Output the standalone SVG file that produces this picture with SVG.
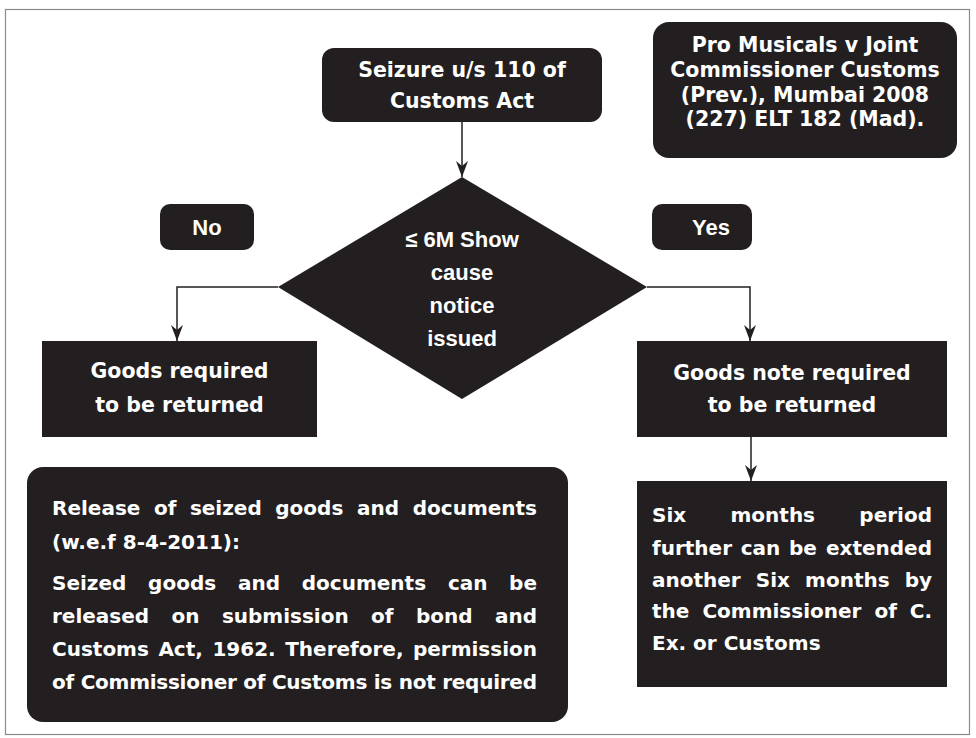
<svg xmlns="http://www.w3.org/2000/svg" width="976" height="738" viewBox="0 0 976 738">
<style>
.box{fill:#231f20}
.t{fill:#fff;font-family:"DejaVu Sans",sans-serif;font-weight:bold;font-size:20.5px}
.c{text-anchor:middle}
.d{fill:#fff;font-family:"Liberation Sans",Arial,sans-serif;font-weight:bold;font-size:22px;text-anchor:middle}
.j{fill:#fff;font-family:"DejaVu Sans",sans-serif;font-weight:bold;font-size:20px}
.e{text-anchor:end}
.conn{fill:none;stroke:#231f20;stroke-width:1.5}
</style>
<defs>
<marker id="ah" viewBox="0 0 16 12" refX="16" refY="6" markerWidth="16" markerHeight="12" markerUnits="userSpaceOnUse" orient="auto">
<path d="M0,0 L16,6 L0,12 L5,6 z" fill="#231f20"/>
</marker>
</defs>
<rect x="5.5" y="9.5" width="964" height="725" fill="#fff" stroke="#8a8a8a" stroke-width="1.2"/>

<g id="connectors">
<path class="conn" d="M462,122 V177" marker-end="url(#ah)"/>
<path class="conn" d="M278,287 H177 V341" marker-end="url(#ah)"/>
<path class="conn" d="M647,287 H750 V341" marker-end="url(#ah)"/>
<path class="conn" d="M751,437 V481" marker-end="url(#ah)"/>
</g>

<g id="seizure">
<rect class="box" x="322" y="48" width="280" height="74" rx="12"/>
<text class="t c" x="462" y="77">Seizure u/s 110 of</text>
<text class="t c" x="462" y="108">Customs Act</text>
</g>

<g id="case">
<rect class="box" x="653" y="22" width="304" height="136" rx="16"/>
<text class="t c" x="805" y="52">Pro Musicals v Joint</text>
<text class="t c" x="805" y="77">Commissioner Customs</text>
<text class="t c" x="805" y="102">(Prev.), Mumbai 2008</text>
<text class="t c" x="805" y="126">(227) ELT 182 (Mad).</text>
</g>

<g id="no">
<rect class="box" x="160" y="204" width="94" height="46" rx="10"/>
<text class="d" x="207" y="235">No</text>
</g>

<g id="yes">
<rect class="box" x="652" y="204" width="100" height="46" rx="10"/>
<text class="d" x="711" y="235">Yes</text>
</g>

<g id="decision">
<polygon class="box" points="462,177 647,287 462,399 278,287"/>
<text class="d" x="462" y="247">≤ 6M Show</text>
<text class="d" x="462" y="280">cause</text>
<text class="d" x="462" y="313">notice</text>
<text class="d" x="462" y="346">issued</text>
</g>

<g id="returned">
<rect class="box" x="42" y="341" width="275" height="96"/>
<text class="t c" x="179.5" y="378">Goods required</text>
<text class="t c" x="179.5" y="412">to be returned</text>
</g>

<g id="notreturned">
<rect class="box" x="637" y="341" width="310" height="96"/>
<text class="t c" x="792" y="380">Goods note required</text>
<text class="t c" x="792" y="412">to be returned</text>
</g>

<g id="release">
<rect class="box" x="27" y="467" width="541" height="255" rx="16"/>
<text class="j" y="515"><tspan x="52">Release</tspan><tspan x="153.9">of</tspan><tspan x="189.9">seized</tspan><tspan x="275.3">goods</tspan><tspan x="356.9">and</tspan><tspan x="537" class="e">documents</tspan></text>
<text class="j" x="52" y="549">(w.e.f 8-4-2011):</text>
<text class="j" y="590"><tspan x="52">Seized</tspan><tspan x="148.1">goods</tspan><tspan x="237.9">and</tspan><tspan x="301.8">documents</tspan><tspan x="447.9">can</tspan><tspan x="537" class="e">be</tspan></text>
<text class="j" y="623"><tspan x="52">released</tspan><tspan x="171.5">on</tspan><tspan x="221.9">submission</tspan><tspan x="371.1">of</tspan><tspan x="415.9">bond</tspan><tspan x="537" class="e">and</tspan></text>
<text class="j" y="656"><tspan x="52">Customs</tspan><tspan x="158.4">Act,</tspan><tspan x="212.4">1962.</tspan><tspan x="285.2">Therefore,</tspan><tspan x="537" class="e">permission</tspan></text>
<text class="j" x="52" y="689" textLength="485" lengthAdjust="spacing">of Commissioner of Customs is not required</text>
</g>

<g id="extension">
<rect class="box" x="637" y="481" width="310" height="206"/>
<text class="j" y="522"><tspan x="652">Six</tspan><tspan x="730.5">months</tspan><tspan x="932" class="e">period</tspan></text>
<text class="j" y="555"><tspan x="652">further</tspan><tspan x="740.7">can</tspan><tspan x="789">be</tspan><tspan x="932" class="e">extended</tspan></text>
<text class="j" y="587"><tspan x="652">another</tspan><tspan x="755.8">Six</tspan><tspan x="805.1">months</tspan><tspan x="932" class="e">by</tspan></text>
<text class="j" y="618"><tspan x="652">the</tspan><tspan x="702.4">Commissioner</tspan><tspan x="874.4">of</tspan><tspan x="932" class="e">C.</tspan></text>
<text class="j" x="652" y="650">Ex. or Customs</text>
</g>
</svg>
